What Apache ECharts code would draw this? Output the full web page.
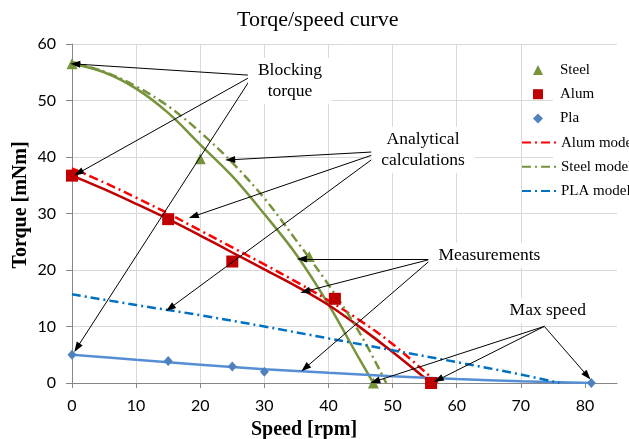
<!DOCTYPE html>
<html><head><meta charset="utf-8">
<script src="https://cdn.jsdelivr.net/npm/echarts@6/dist/echarts.min.js"></script>
<style>html,body{margin:0;padding:0;background:#fff}#c{width:629px;height:439px}</style>
</head><body><div id="c"></div>
<script>
// ---- measured points ----
const steelSpeed = [0, 20, 37, 47];
const steelTorque = [56.5, 39.7, 22.4, 0];
const alumSpeed = [0, 15, 25, 41, 56];
const alumTorque = [36.7, 29.0, 21.5, 14.9, 0];
const plaSpeed = [0, 15, 25, 30, 81];
const plaTorque = [5.0, 3.9, 2.9, 2.0, 0];

// ---- analytical models ----
const steelModelSpeed = [0, 5, 10, 15, 20, 25, 30, 35, 40, 45, 49];
const steelModelTorque = [56.8, 55.1, 52.5, 49.0, 44.4, 39.0, 32.7, 25.2, 17.4, 8.6, 0];
const alumModelSpeed = [0, 5, 10, 15, 20, 25, 30, 35, 40, 45, 50, 57];
const alumModelTorque = [38.0, 35.5, 32.8, 30.0, 27.0, 24.0, 21.0, 17.9, 14.6, 11.0, 6.9, 0];
const plaModelSpeed = [0, 10, 20, 30, 40, 50, 60, 70, 76];
const plaModelTorque = [15.7, 13.8, 12.0, 10.0, 7.9, 5.8, 3.7, 1.5, 0];

const steelFitSpeed = [0, 5, 10, 15, 20, 25, 30, 35, 40, 45, 47];
const steelFitTorque = [56.5, 55.0, 52.1, 47.8, 42.2, 36.6, 29.9, 22.7, 13.9, 3.9, 0];
const alumFitSpeed = [0, 5, 10, 15, 20, 25, 30, 35, 40, 45, 50, 56];
const alumFitTorque = [36.7, 34.3, 31.7, 29.0, 26.1, 23.1, 20.1, 17.1, 13.8, 9.8, 5.5, 0];
const plaFitSpeed = [0, 10, 20, 30, 40, 50, 60, 70, 81];
const plaFitTorque = [5.0, 4.1, 3.25, 2.45, 1.8, 1.2, 0.7, 0.3, 0];

// ---- axes ----
const xTicks = [0, 10, 20, 30, 40, 50, 60, 70, 80];
const yTicks = [0, 10, 20, 30, 40, 50, 60];

// ---- legend entries ----
const markerLegend = ['Steel', 'Alum', 'Pla'];
const modelLegend = ['Alum model', 'Steel model', 'PLA model'];

// ---- annotations (data coordinates) ----
const annotationTexts = ['Blocking\ntorque', 'Analytical\ncalculations', 'Measurements', 'Max speed'];
const annotationAt = [[34.0, 53.5], [54.75, 41.3], [65.1, 22.6], [74.2, 12.8]];
const arrowStarts = [[28.21, 54.44], [48.47, 40.99], [56.11, 21.95], [73.66, 10.02]];
const arrowEnds = [
  [[0.51, 56.46], [1.03, 37.17], [0.78, 6.25]],
  [[24.67, 39.5], [18.95, 29.49], [15.3, 13.27]],
  [[35.85, 21.95], [36.36, 16.21], [36.36, 2.65]],
  [[47.27, 0.28], [57.14, 0.58], [80.36, 1.29]]
];

const zip = (a, b) => a.map((v, i) => [v, b[i]]);
const serif = 'Liberation Serif';
const dashDot = [9, 4, 2, 4];

const arrowLines = [];
arrowStarts.forEach((s, i) => arrowEnds[i].forEach(e => arrowLines.push([{coord: s}, {coord: e}])));
const labelPoints = annotationAt.map((p, i) => ({
  coord: p,
  label: {formatter: annotationTexts[i]}
}));

const legendText = {fontFamily: serif, fontSize: 15, color: '#000'};

const chart = echarts.init(document.getElementById('c'), null, {renderer: 'canvas'});
chart.setOption({
  animation: false,
  backgroundColor: '#fff',
  title: {
    text: 'Torqe/speed curve', left: 237, top: 9, padding: 0,
    textStyle: {fontFamily: serif, fontSize: 22, fontWeight: 'normal', color: '#000'}
  },
  grid: {left: 72, right: 12, top: 44, bottom: 56},
  legend: [
    {
      orient: 'vertical', left: 533, top: 62.5, padding: 0, z: 10,
      itemWidth: 10, itemHeight: 10, itemGap: 9.2,
      textStyle: Object.assign({padding: [0, 0, 0, 12]}, legendText),
      data: markerLegend
    },
    {
      orient: 'vertical', left: 521, top: 62.5 + 3 * 24.2, padding: 0, z: 10,
      itemWidth: 34, itemHeight: 10, itemGap: 9.2,
      textStyle: legendText,
      data: modelLegend.map(n => ({name: n, itemStyle: {opacity: 0}}))
    }
  ],
  xAxis: {
    type: 'value', min: 0, max: 85, interval: 10,
    axisLine: {show: true, lineStyle: {color: '#868686', width: 1}},
    axisTick: {show: true, length: 5, customValues: xTicks, lineStyle: {color: '#868686'}},
    axisLabel: {customValues: xTicks, margin: 15, fontFamily: 'Lato', fontSize: 16, color: '#000'},
    splitLine: {show: true, showMaxLine: false, lineStyle: {color: '#D9D9D9', width: 1}}
  },
  yAxis: {
    type: 'value', min: 0, max: 60, interval: 10,
    axisLine: {show: true, lineStyle: {color: '#868686', width: 1}},
    axisTick: {show: true, length: 6, customValues: yTicks, lineStyle: {color: '#868686'}},
    axisLabel: {customValues: yTicks, margin: 16, fontFamily: 'Lato', fontSize: 16, color: '#000'},
    splitLine: {show: true, lineStyle: {color: '#D9D9D9', width: 1}}
  },
  graphic: [
    {type: 'rect', z: 3, shape: {x: 553, y: 54, width: 76, height: 151}, style: {fill: '#fff'}},
    {type: 'text', z: 10, x: 304, y: 430,
     style: {text: 'Speed [rpm]', font: 'bold 20px "Liberation Serif"', fill: '#000', align: 'center', verticalAlign: 'middle'}},
    {type: 'text', z: 10, x: 21, y: 205, rotation: Math.PI / 2,
     style: {text: 'Torque [mNm]', font: 'bold 20px "Liberation Serif"', fill: '#000', align: 'center', verticalAlign: 'middle'}}
  ],
  series: [
    {name: 'Steel fit', type: 'line', data: zip(steelFitSpeed, steelFitTorque), smooth: 0.35,
     symbol: 'none', lineStyle: {color: '#77933C', width: 2.5}, z: 2, silent: true},
    {name: 'Alum fit', type: 'line', data: zip(alumFitSpeed, alumFitTorque), smooth: 0.35,
     symbol: 'none', lineStyle: {color: '#C00000', width: 2.5}, z: 2, silent: true},
    {name: 'Pla fit', type: 'line', data: zip(plaFitSpeed, plaFitTorque), smooth: 0.35,
     symbol: 'none', lineStyle: {color: '#558ED5', width: 2.5}, z: 2, silent: true},
    {name: 'Alum model', type: 'line', data: zip(alumModelSpeed, alumModelTorque), smooth: 0.35,
     symbol: 'none', color: '#FF0000', lineStyle: {color: '#FF0000', width: 2.5, type: dashDot}, z: 2},
    {name: 'Steel model', type: 'line', data: zip(steelModelSpeed, steelModelTorque), smooth: 0.35,
     symbol: 'none', color: '#77933C', lineStyle: {color: '#77933C', width: 2.5, type: dashDot}, z: 2},
    {name: 'PLA model', type: 'line', data: zip(plaModelSpeed, plaModelTorque), smooth: 0.35,
     symbol: 'none', color: '#0070C0', lineStyle: {color: '#0070C0', width: 2.5, type: dashDot}, z: 2},
    {name: 'Steel', type: 'scatter', data: zip(steelSpeed, steelTorque), symbol: 'triangle', symbolSize: 11,
     itemStyle: {color: '#77933C', opacity: 1}, z: 4},
    {name: 'Alum', type: 'scatter', data: zip(alumSpeed, alumTorque), symbol: 'rect', symbolSize: 12,
     itemStyle: {color: '#C00000', opacity: 1}, z: 4},
    {name: 'Pla', type: 'scatter', data: zip(plaSpeed, plaTorque), symbol: 'diamond', symbolSize: [9, 10],
     itemStyle: {color: '#4F81BD', opacity: 1}, z: 4},
    {name: 'annotations', type: 'line', data: [], z: 6, silent: true,
     markLine: {
       silent: true, symbol: ['none', 'triangle'], symbolSize: [7, 10],
       lineStyle: {color: '#000', width: 1, type: 'solid'},
       itemStyle: {color: '#000'},
       label: {show: false}, emphasis: {disabled: true},
       data: arrowLines
     },
     markPoint: {
       silent: true, symbol: 'rect', symbolSize: 1, itemStyle: {color: 'rgba(0,0,0,0)'},
       label: {show: true, position: 'inside', color: '#000', fontFamily: serif, fontSize: 17.5,
               lineHeight: 21, align: 'center', backgroundColor: '#fff', padding: [2, 10]},
       data: labelPoints
     }}
  ]
});
</script></body></html>
